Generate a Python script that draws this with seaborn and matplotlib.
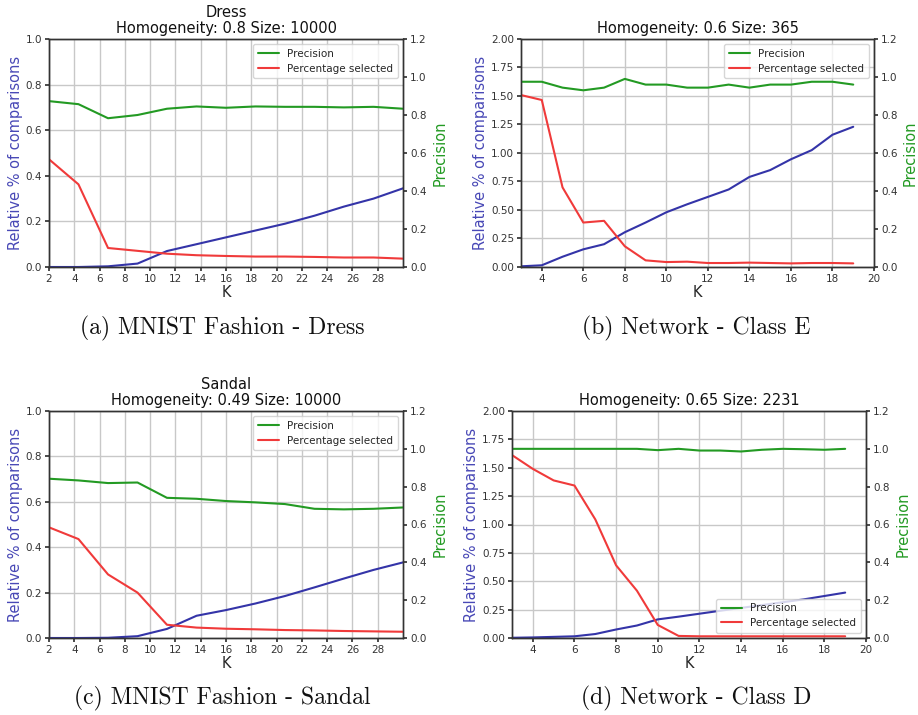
import numpy as np
import pandas as pd
import matplotlib
matplotlib.use("Agg")
import matplotlib.pyplot as plt
import seaborn as sns

# ---------------- data ----------------
k_mnist = [2.0, 4.33, 6.67, 9.0, 11.33, 13.67, 16.0, 18.33, 20.67, 23.0, 25.33, 27.67, 30.0]
k_net = [3, 4, 5, 6, 7, 8, 9, 10, 11, 12, 13, 14, 15, 16, 17, 18, 19]

# (a) MNIST Fashion - Dress
dress_relative = [0.0, 0.0, 0.003, 0.015, 0.07, 0.10, 0.13, 0.16, 0.19, 0.225, 0.265, 0.30, 0.345]
dress_precision = [0.873, 0.857, 0.783, 0.80, 0.833, 0.845, 0.838, 0.845, 0.843, 0.843, 0.840, 0.843, 0.833]
dress_selected = [0.567, 0.435, 0.10, 0.085, 0.07, 0.062, 0.058, 0.055, 0.055, 0.053, 0.050, 0.050, 0.044]

# (b) Network - Class E
classE_relative = [0.006, 0.015, 0.09, 0.155, 0.20, 0.305, 0.39, 0.48, 0.55, 0.615, 0.68, 0.79, 0.85, 0.945, 1.025, 1.16, 1.23]
classE_precision = [0.975, 0.975, 0.944, 0.93, 0.944, 0.99, 0.96, 0.96, 0.944, 0.944, 0.96, 0.944, 0.96, 0.96, 0.975, 0.975, 0.96]
classE_selected = [0.905, 0.879, 0.419, 0.234, 0.243, 0.109, 0.035, 0.026, 0.028, 0.021, 0.021, 0.023, 0.021, 0.019, 0.021, 0.021, 0.019]

# (c) MNIST Fashion - Sandal
sandal_relative = [0.0, 0.0, 0.001, 0.008, 0.04, 0.098, 0.123, 0.152, 0.185, 0.223, 0.262, 0.30, 0.333]
sandal_precision = [0.842, 0.833, 0.819, 0.822, 0.741, 0.736, 0.724, 0.717, 0.708, 0.683, 0.680, 0.683, 0.690]
sandal_selected = [0.585, 0.523, 0.336, 0.24, 0.07, 0.055, 0.049, 0.046, 0.042, 0.040, 0.037, 0.035, 0.033]

# (d) Network - Class D
classD_relative = [0.002, 0.005, 0.01, 0.015, 0.035, 0.075, 0.11, 0.164, 0.188, 0.214, 0.24, 0.265, 0.29, 0.315, 0.34, 0.37, 0.40]
classD_precision = [1.0, 1.0, 1.0, 1.0, 1.0, 1.0, 1.0, 0.993, 1.0, 0.991, 0.991, 0.986, 0.995, 1.0, 0.998, 0.995, 1.0]
classD_selected = [0.967, 0.894, 0.833, 0.806, 0.627, 0.384, 0.25, 0.069, 0.011, 0.009, 0.009, 0.009, 0.009, 0.009, 0.009, 0.009, 0.009]

titles = ["Dress\nHomogeneity: 0.8 Size: 10000",
          "Homogeneity: 0.6 Size: 365",
          "Sandal\nHomogeneity: 0.49 Size: 10000",
          "Homogeneity: 0.65 Size: 2231"]
captions = ["(a) MNIST Fashion - Dress", "(b) Network - Class E",
            "(c) MNIST Fashion - Sandal", "(d) Network - Class D"]

# ---------------- style ----------------
sns.set_theme(style="white", rc={
    "axes.edgecolor": "#333333",
    "axes.linewidth": 1.0,
    "xtick.color": "#333333",
    "ytick.color": "#333333",
    "xtick.bottom": True,
    "ytick.left": True,
    "xtick.major.size": 3,
    "ytick.major.size": 3,
    "grid.color": "#c8c8c8",
    "grid.linewidth": 1.0,
})
plt.rcParams["font.family"] = ["DejaVu Sans"]

BLUE = "#3434a8"
RED = "#f03a3a"
GREEN = "#239a23"
LABEL_BLUE = "#4848b6"

fig = plt.figure(figsize=(9.18, 7.15), dpi=100)

positions = [
    [49 / 918, 1 - 267 / 715, 354 / 918, 228 / 715],
    [521 / 918, 1 - 267 / 715, 353 / 918, 228 / 715],
    [49 / 918, 1 - 638 / 715, 354 / 918, 227 / 715],
    [512 / 918, 1 - 638 / 715, 354 / 918, 227 / 715],
]

panels = [
    (k_mnist, dress_relative, dress_precision, dress_selected, "mnist", "upper right"),
    (k_net, classE_relative, classE_precision, classE_selected, "net", "upper right"),
    (k_mnist, sandal_relative, sandal_precision, sandal_selected, "mnist", "upper right"),
    (k_net, classD_relative, classD_precision, classD_selected, "net", "lower right"),
]

for i, (k, rel, prec, sel, kind, legloc) in enumerate(panels):
    ax = fig.add_axes(positions[i])
    ax2 = ax.twinx()
    df = pd.DataFrame({"K": k, "relative": rel, "precision": prec, "selected": sel})
    sns.lineplot(data=df, x="K", y="relative", ax=ax, color=BLUE, linewidth=1.5)
    sns.lineplot(data=df, x="K", y="precision", ax=ax2, color=GREEN, linewidth=1.5, label="Precision")
    sns.lineplot(data=df, x="K", y="selected", ax=ax2, color=RED, linewidth=1.5, label="Percentage selected")

    if kind == "mnist":
        ax.set_xlim(2, 30)
        ax.set_xticks(np.arange(2, 30, 2))
        ax.set_ylim(0, 1.0)
        ax.set_yticks(np.arange(0, 1.01, 0.2))
        ax.set_yticklabels([f"{v:.1f}" for v in np.arange(0, 1.01, 0.2)])
    else:
        ax.set_xlim(3, 20)
        ax.set_xticks(np.arange(4, 21, 2))
        ax.set_ylim(0, 2.0)
        ax.set_yticks(np.arange(0, 2.01, 0.25))
        ax.set_yticklabels([f"{v:.2f}" for v in np.arange(0, 2.01, 0.25)])
    ax2.set_ylim(0, 1.2)
    ax2.set_yticks(np.arange(0, 1.21, 0.2))
    ax2.set_yticklabels([f"{v:.1f}" for v in np.arange(0, 1.21, 0.2)])

    ax.grid(True, color="#c8c8c8", linewidth=1.0)
    ax2.grid(False)
    ax.set_axisbelow(True)
    ax.tick_params(axis="both", labelsize=7.5, length=3, pad=2)
    ax2.tick_params(axis="y", labelsize=7.5, length=3, pad=2, right=True)

    ax.set_xlabel("K", fontsize=10.5, labelpad=1)
    ax.set_ylabel("Relative % of comparisons", fontsize=10.5, color=LABEL_BLUE, labelpad=2)
    ax2.set_ylabel("Precision", fontsize=10.5, color=GREEN, labelpad=4)
    ax.set_title(titles[i], fontsize=10.5, pad=4, linespacing=1.1, color="#111111")

    leg = ax2.legend(loc=legloc, fontsize=7.5, frameon=True, framealpha=0.8,
                     edgecolor="#cccccc", fancybox=True, handlelength=2.0,
                     borderpad=0.45, labelspacing=0.45)

caption_pos = [(222, 328), (696, 328), (222, 698), (696, 698)]
for (cx, cy), text in zip(caption_pos, captions):
    fig.text(cx / 918, 1 - cy / 715, text, ha="center", va="center",
             fontsize=17, family=["cmr10", "DejaVu Serif"], color="#111111")

fig.savefig("out.png", dpi=100)
